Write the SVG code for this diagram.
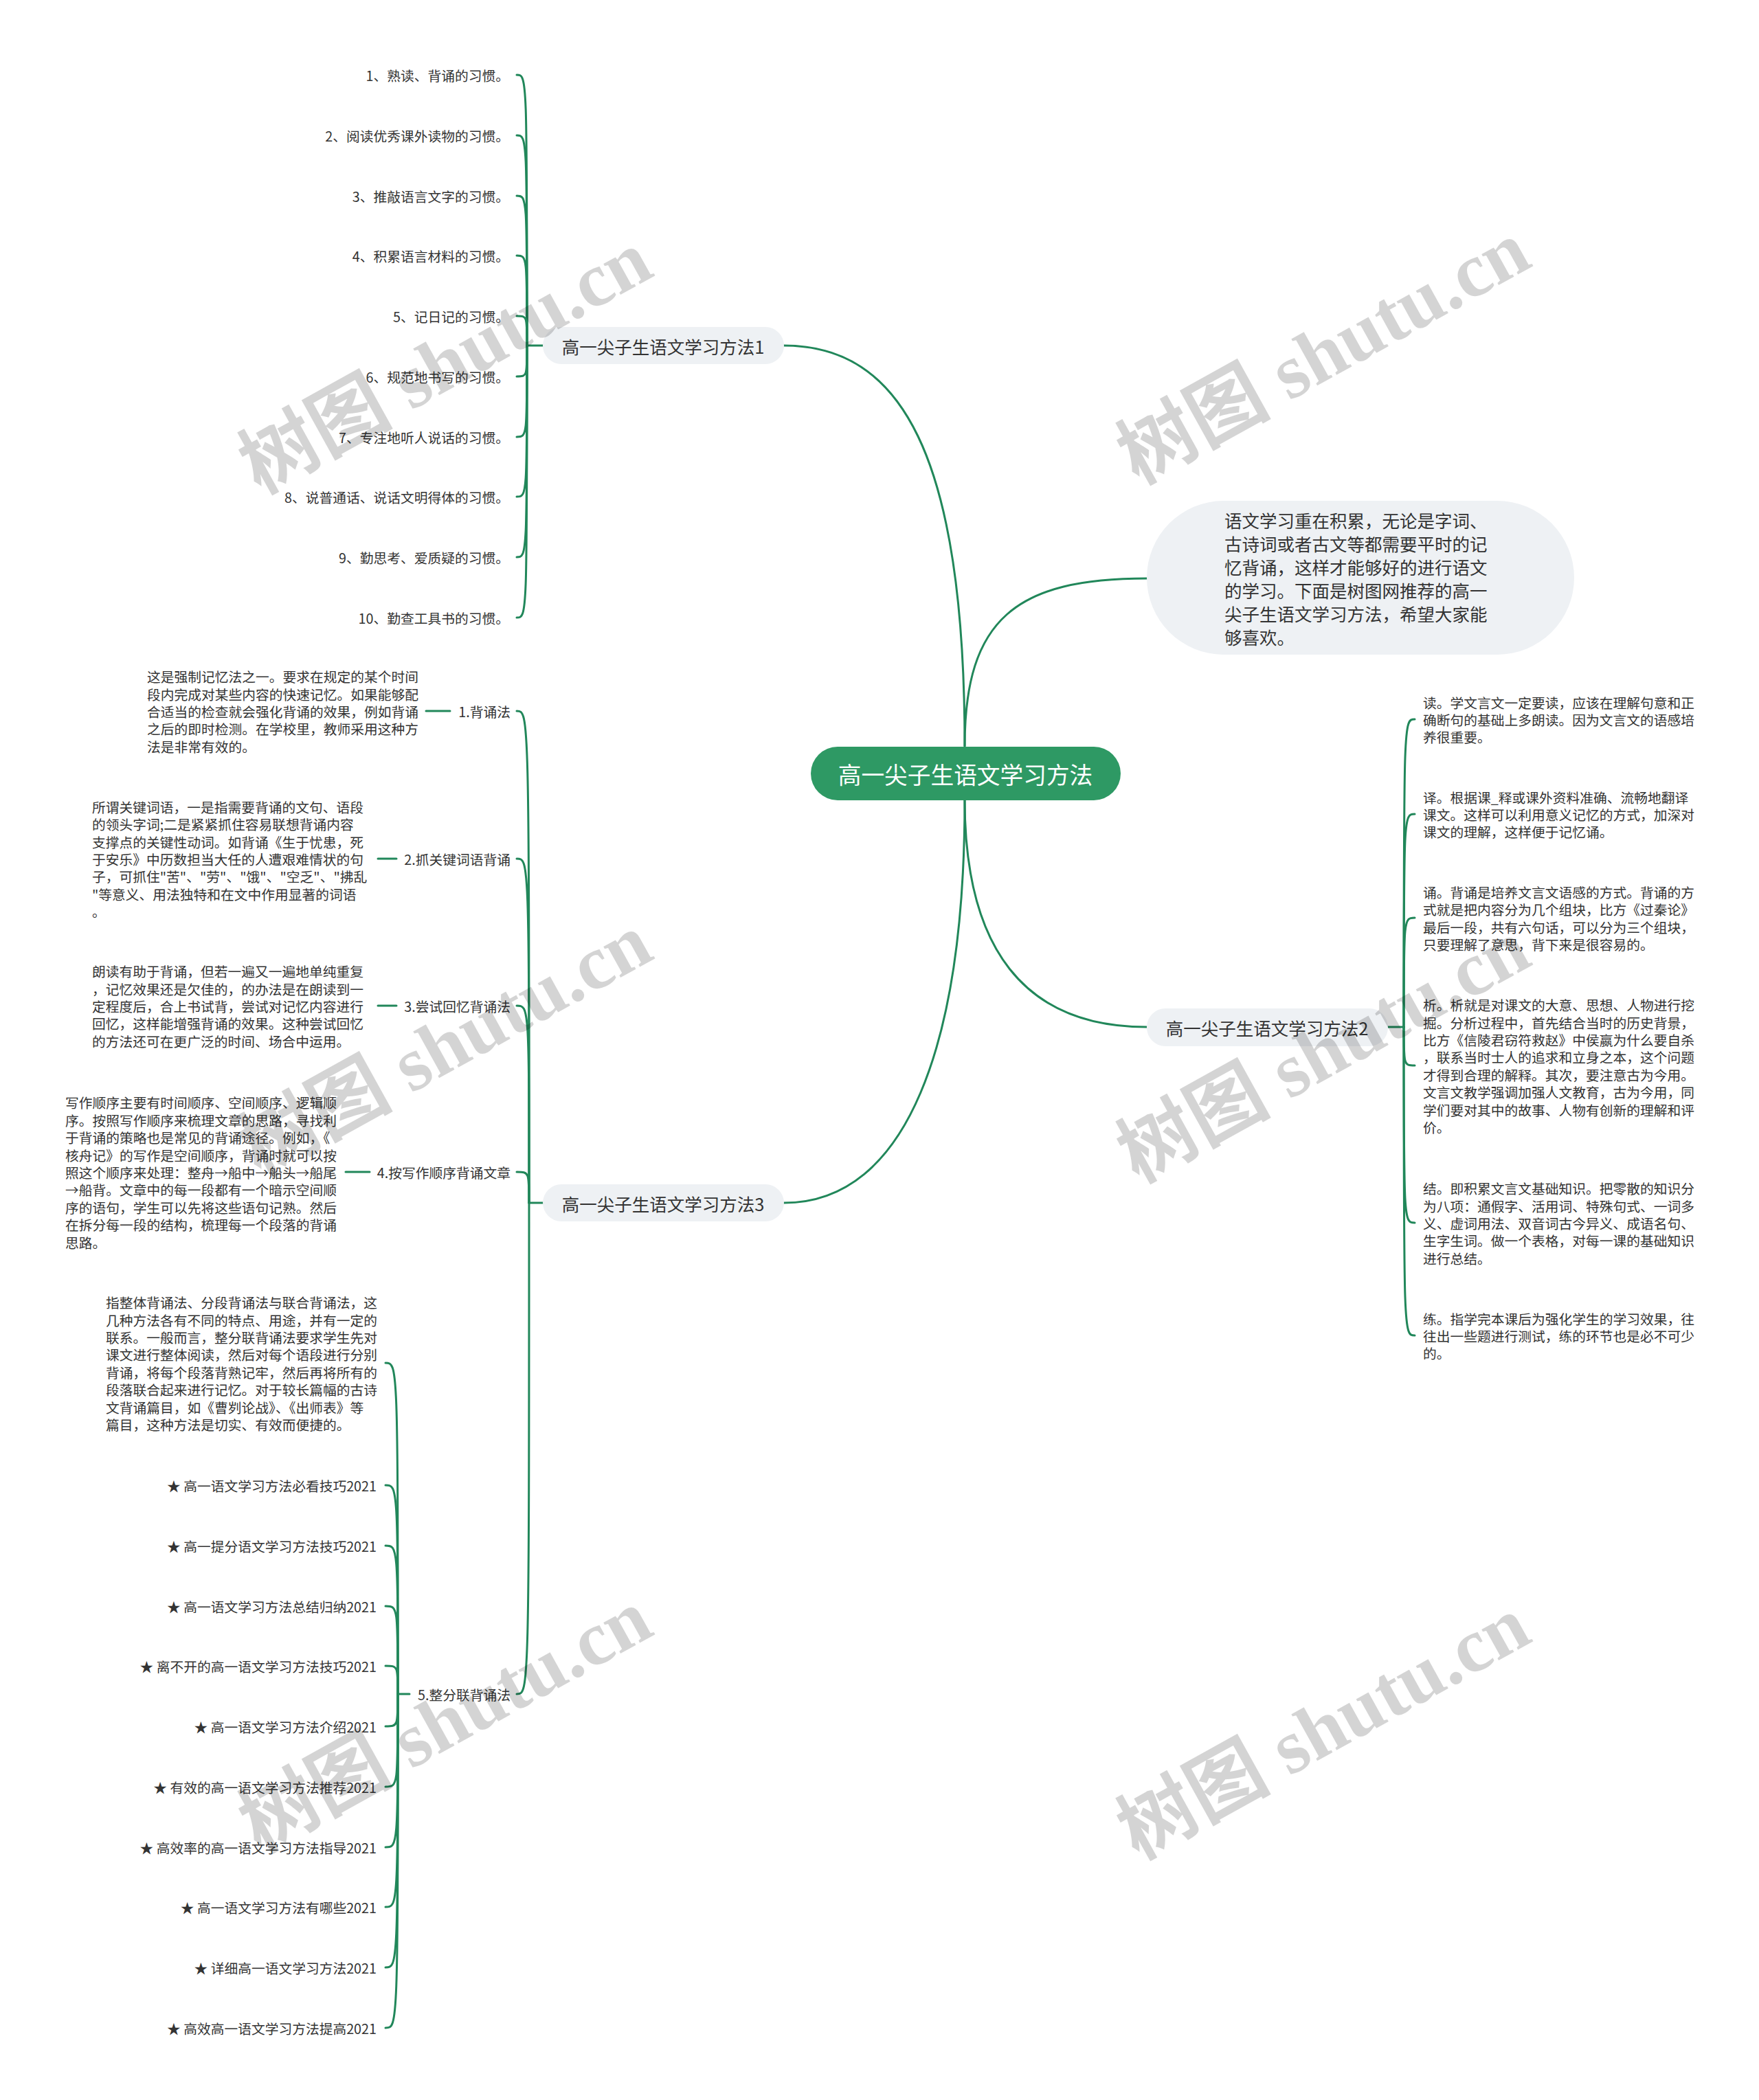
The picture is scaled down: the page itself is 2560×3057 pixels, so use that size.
<svg xmlns="http://www.w3.org/2000/svg" width="2560" height="3057" viewBox="0 0 2560 3057">
<style>
text{font-family:"Noto Sans CJK SC","Noto Sans",sans-serif;fill:#333;dominant-baseline:central}
.t{font-size:19.75px}
.b{font-size:25.5px}
.r{font-size:33.7px;fill:#fff}
.e{text-anchor:end}
.m{text-anchor:middle}
.ln{fill:none;stroke:#21875a;stroke-width:3;stroke-linecap:round}
.bn{fill:#eef1f4}
.wm{font-family:"Liberation Serif","Noto Sans CJK SC",serif;font-weight:bold;font-size:112px;fill:#000;fill-opacity:0.17;text-anchor:middle}
</style>
<rect width="2560" height="3057" fill="#fff"/>
<g id="connectors" class="ln">
<path d="M1404,1086 C1404,660 1310,503 1141,503"/>
<path d="M1404,1086 C1404,900 1480,842 1669,842"/>
<path d="M1404,1164 C1404,1380 1490,1495 1669,1495"/>
<path d="M1404,1164 C1404,1520 1320,1751 1141,1751"/>
<path d="M790,503 H767"/>
<path d="M767,503 C767,109 767,109 752,109"/>
<path d="M767,503 C767,197 767,197 752,197"/>
<path d="M767,503 C767,285 767,285 752,285"/>
<path d="M767,503 C767,372 767,372 752,372"/>
<path d="M767,503 C767,460 767,460 752,460"/>
<path d="M767,503 C767,548 767,548 752,548"/>
<path d="M767,503 C767,636 767,636 752,636"/>
<path d="M767,503 C767,723 767,723 752,723"/>
<path d="M767,503 C767,811 767,811 752,811"/>
<path d="M767,503 C767,899 767,899 752,899"/>
<path d="M790,1751 H770"/>
<path d="M770,1751 C770,1035 770,1035 752,1035"/>
<path d="M770,1751 C770,1250 770,1250 752,1250"/>
<path d="M770,1751 C770,1464 770,1464 752,1464"/>
<path d="M770,1751 C770,1706 770,1706 752,1706"/>
<path d="M770,1751 C770,2466 770,2466 752,2466"/>
<path d="M655,1035 H620"/>
<path d="M577,1250 H550"/>
<path d="M577,1464 H550"/>
<path d="M538,1706 H503"/>
<path d="M596,2466 H579"/>
<path d="M579,2466 C579,1984 579,1984 561,1984"/>
<path d="M579,2466 C579,2162 579,2162 561,2162"/>
<path d="M579,2466 C579,2250 579,2250 561,2250"/>
<path d="M579,2466 C579,2338 579,2338 561,2338"/>
<path d="M579,2466 C579,2425 579,2425 561,2425"/>
<path d="M579,2466 C579,2513 579,2513 561,2513"/>
<path d="M579,2466 C579,2601 579,2601 561,2601"/>
<path d="M579,2466 C579,2689 579,2689 561,2689"/>
<path d="M579,2466 C579,2776 579,2776 561,2776"/>
<path d="M579,2466 C579,2864 579,2864 561,2864"/>
<path d="M579,2466 C579,2952 579,2952 561,2952"/>
<path d="M2020,1495 H2043"/>
<path d="M2043,1495 C2043,1047 2043,1047 2059,1047"/>
<path d="M2043,1495 C2043,1185 2043,1185 2059,1185"/>
<path d="M2043,1495 C2043,1336 2043,1336 2059,1336"/>
<path d="M2043,1495 C2043,1551 2043,1551 2059,1551"/>
<path d="M2043,1495 C2043,1780 2043,1780 2059,1780"/>
<path d="M2043,1495 C2043,1944 2043,1944 2059,1944"/>
</g>
<g id="root">
<rect x="1180" y="1087" width="451" height="78" rx="39" fill="#2e9964"/>
<text class="r m" x="1405" y="1126">高一尖子生语文学习方法</text>
</g>
<g id="intro">
<rect x="1669" y="729" width="622" height="224" rx="112" class="bn"/>
<text class="b"><tspan x="1782" y="756">语文学习重在积累，无论是字词、</tspan><tspan x="1782" y="790">古诗词或者古文等都需要平时的记</tspan><tspan x="1782" y="824">忆背诵，这样才能够好的进行语文</tspan><tspan x="1782" y="858">的学习。下面是树图网推荐的高一</tspan><tspan x="1782" y="892">尖子生语文学习方法，希望大家能</tspan><tspan x="1782" y="926">够喜欢。</tspan></text>
</g>
<g id="branch1">
<rect x="790" y="476" width="351" height="54" rx="27" class="bn"/>
<text class="b m" x="965" y="503">高一尖子生语文学习方法1</text>
</g>
<g id="b1-items" class="t">
<text class="t e" x="741" y="109">1、熟读、背诵的习惯。</text>
<text class="t e" x="741" y="197">2、阅读优秀课外读物的习惯。</text>
<text class="t e" x="741" y="285">3、推敲语言文字的习惯。</text>
<text class="t e" x="741" y="372">4、积累语言材料的习惯。</text>
<text class="t e" x="741" y="460">5、记日记的习惯。</text>
<text class="t e" x="741" y="548">6、规范地书写的习惯。</text>
<text class="t e" x="741" y="636">7、专注地听人说话的习惯。</text>
<text class="t e" x="741" y="723">8、说普通话、说话文明得体的习惯。</text>
<text class="t e" x="741" y="811">9、勤思考、爱质疑的习惯。</text>
<text class="t e" x="741" y="899">10、勤查工具书的习惯。</text>
</g>
<g id="branch2">
<rect x="1669" y="1468" width="351" height="55" rx="27" class="bn"/>
<text class="b m" x="1844" y="1495">高一尖子生语文学习方法2</text>
</g>
<g id="b2-items">
<text class="t"><tspan x="2071" y="1021.6">读。学文言文一定要读，应该在理解句意和正</tspan><tspan x="2071" y="1047">确断句的基础上多朗读。因为文言文的语感培</tspan><tspan x="2071" y="1072.4">养很重要。</tspan></text>
<text class="t"><tspan x="2071" y="1159.6">译。根据课_释或课外资料准确、流畅地翻译</tspan><tspan x="2071" y="1185">课文。这样可以利用意义记忆的方式，加深对</tspan><tspan x="2071" y="1210.4">课文的理解，这样便于记忆诵。</tspan></text>
<text class="t"><tspan x="2071" y="1297.9">诵。背诵是培养文言文语感的方式。背诵的方</tspan><tspan x="2071" y="1323.3">式就是把内容分为几个组块，比方《过秦论》</tspan><tspan x="2071" y="1348.7">最后一段，共有六句话，可以分为三个组块，</tspan><tspan x="2071" y="1374.1">只要理解了意思，背下来是很容易的。</tspan></text>
<text class="t"><tspan x="2071" y="1462.1">析。析就是对课文的大意、思想、人物进行挖</tspan><tspan x="2071" y="1487.5">掘。分析过程中，首先结合当时的历史背景，</tspan><tspan x="2071" y="1512.9">比方《信陵君窃符救赵》中侯嬴为什么要自杀</tspan><tspan x="2071" y="1538.3">，联系当时士人的追求和立身之本，这个问题</tspan><tspan x="2071" y="1563.7">才得到合理的解释。其次，要注意古为今用。</tspan><tspan x="2071" y="1589.1">文言文教学强调加强人文教育，古为今用，同</tspan><tspan x="2071" y="1614.5">学们要对其中的故事、人物有创新的理解和评</tspan><tspan x="2071" y="1639.9">价。</tspan></text>
<text class="t"><tspan x="2071" y="1729.2">结。即积累文言文基础知识。把零散的知识分</tspan><tspan x="2071" y="1754.6">为八项：通假字、活用词、特殊句式、一词多</tspan><tspan x="2071" y="1780">义、虚词用法、双音词古今异义、成语名句、</tspan><tspan x="2071" y="1805.4">生字生词。做一个表格，对每一课的基础知识</tspan><tspan x="2071" y="1830.8">进行总结。</tspan></text>
<text class="t"><tspan x="2071" y="1918.6">练。指学完本课后为强化学生的学习效果，往</tspan><tspan x="2071" y="1944">往出一些题进行测试，练的环节也是必不可少</tspan><tspan x="2071" y="1969.4">的。</tspan></text>
</g>
<g id="branch3">
<rect x="790" y="1724" width="351" height="54" rx="27" class="bn"/>
<text class="b m" x="965" y="1751">高一尖子生语文学习方法3</text>
</g>
<g id="m1">
<text class="t e" x="743" y="1035">1.背诵法</text>
<text class="t"><tspan x="214" y="984.2">这是强制记忆法之一。要求在规定的某个时间</tspan><tspan x="214" y="1009.6">段内完成对某些内容的快速记忆。如果能够配</tspan><tspan x="214" y="1035">合适当的检查就会强化背诵的效果，例如背诵</tspan><tspan x="214" y="1060.4">之后的即时检测。在学校里，教师采用这种方</tspan><tspan x="214" y="1085.8">法是非常有效的。</tspan></text>
</g>
<g id="m2">
<text class="t e" x="743" y="1250">2.抓关键词语背诵</text>
<text class="t"><tspan x="134" y="1173.8">所谓关键词语，一是指需要背诵的文句、语段</tspan><tspan x="134" y="1199.2">的领头字词;二是紧紧抓住容易联想背诵内容</tspan><tspan x="134" y="1224.6">支撑点的关键性动词。如背诵《生于忧患，死</tspan><tspan x="134" y="1250">于安乐》中历数担当大任的人遭艰难情状的句</tspan><tspan x="134" y="1275.4">子，可抓住"苦"、"劳"、"饿"、"空乏"、"拂乱</tspan><tspan x="134" y="1300.8">"等意义、用法独特和在文中作用显著的词语</tspan><tspan x="134" y="1326.2">。</tspan></text>
</g>
<g id="m3">
<text class="t e" x="743" y="1464">3.尝试回忆背诵法</text>
<text class="t"><tspan x="134" y="1413.2">朗读有助于背诵，但若一遍又一遍地单纯重复</tspan><tspan x="134" y="1438.6">，记忆效果还是欠佳的，的办法是在朗读到一</tspan><tspan x="134" y="1464">定程度后，合上书试背，尝试对记忆内容进行</tspan><tspan x="134" y="1489.4">回忆，这样能增强背诵的效果。这种尝试回忆</tspan><tspan x="134" y="1514.8">的方法还可在更广泛的时间、场合中运用。</tspan></text>
</g>
<g id="m4">
<text class="t e" x="743" y="1706">4.按写作顺序背诵文章</text>
<text class="t"><tspan x="95" y="1604.4">写作顺序主要有时间顺序、空间顺序、逻辑顺</tspan><tspan x="95" y="1629.8">序。按照写作顺序来梳理文章的思路，寻找利</tspan><tspan x="95" y="1655.2">于背诵的策略也是常见的背诵途径。例如，《</tspan><tspan x="95" y="1680.6">核舟记》的写作是空间顺序，背诵时就可以按</tspan><tspan x="95" y="1706">照这个顺序来处理：整舟→船中→船头→船尾</tspan><tspan x="95" y="1731.4">→船背。文章中的每一段都有一个暗示空间顺</tspan><tspan x="95" y="1756.8">序的语句，学生可以先将这些语句记熟。然后</tspan><tspan x="95" y="1782.2">在拆分每一段的结构，梳理每一个段落的背诵</tspan><tspan x="95" y="1807.6">思路。</tspan></text>
</g>
<g id="m5">
<text class="t e" x="743" y="2466">5.整分联背诵法</text>
<text class="t"><tspan x="154" y="1895.1">指整体背诵法、分段背诵法与联合背诵法，这</tspan><tspan x="154" y="1920.5">几种方法各有不同的特点、用途，并有一定的</tspan><tspan x="154" y="1945.9">联系。一般而言，整分联背诵法要求学生先对</tspan><tspan x="154" y="1971.3">课文进行整体阅读，然后对每个语段进行分别</tspan><tspan x="154" y="1996.7">背诵，将每个段落背熟记牢，然后再将所有的</tspan><tspan x="154" y="2022.1">段落联合起来进行记忆。对于较长篇幅的古诗</tspan><tspan x="154" y="2047.5">文背诵篇目，如《曹刿论战》、《出师表》等</tspan><tspan x="154" y="2072.9">篇目，这种方法是切实、有效而便捷的。</tspan></text>
</g>
<g id="m5-links">
<text class="t e" x="548" y="2162">★ 高一语文学习方法必看技巧2021</text>
<text class="t e" x="548" y="2250">★ 高一提分语文学习方法技巧2021</text>
<text class="t e" x="548" y="2338">★ 高一语文学习方法总结归纳2021</text>
<text class="t e" x="548" y="2425">★ 离不开的高一语文学习方法技巧2021</text>
<text class="t e" x="548" y="2513">★ 高一语文学习方法介绍2021</text>
<text class="t e" x="548" y="2601">★ 有效的高一语文学习方法推荐2021</text>
<text class="t e" x="548" y="2689">★ 高效率的高一语文学习方法指导2021</text>
<text class="t e" x="548" y="2776">★ 高一语文学习方法有哪些2021</text>
<text class="t e" x="548" y="2864">★ 详细高一语文学习方法2021</text>
<text class="t e" x="548" y="2952">★ 高效高一语文学习方法提高2021</text>
</g>
<g id="watermarks">
<text class="wm" transform="translate(648,527) rotate(-29)">树图 shutu.cn</text>
<text class="wm" transform="translate(1926,513) rotate(-29)">树图 shutu.cn</text>
<text class="wm" transform="translate(648,1521) rotate(-29)">树图 shutu.cn</text>
<text class="wm" transform="translate(1926,1530) rotate(-29)">树图 shutu.cn</text>
<text class="wm" transform="translate(648,2505) rotate(-29)">树图 shutu.cn</text>
<text class="wm" transform="translate(1926,2515) rotate(-29)">树图 shutu.cn</text>
</g>
</svg>
